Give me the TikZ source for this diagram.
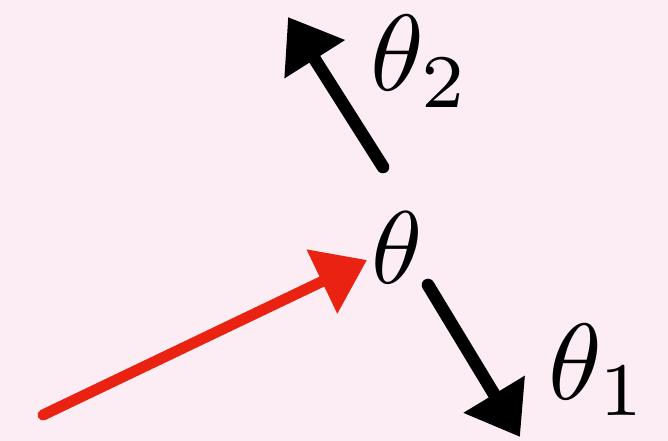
\documentclass[tikz,border=0pt]{standalone}
\usepackage{tikz}
\usetikzlibrary{arrows.meta,positioning}
\usepackage{xcolor}
\definecolor{BgPink}{RGB}{252,237,245}
\definecolor{GradRed}{RGB}{234,34,18}
\tikzset{
  symlabel/.style={inner sep=0pt,scale=8.8},
  sublabel/.style={symlabel,scale=1.05,anchor=base west},
  steparrow/.style={-{Triangle[length=1.5cm,width=2.05cm]},
    line width=0.38cm,line cap=round,line join=round,draw=black},
  gradarrow/.style={steparrow,line width=0.33cm,draw=GradRed},
}

\begin{document}
\begin{tikzpicture}
  \fill[BgPink] (0,0) rectangle (20.04,13.23);
  \useasboundingbox (0,0) rectangle (20.04,13.23);
  \node[symlabel] (th) at (11.91,5.79) {$\theta$};
  \node[sublabel] (th2) at (11.05,10.5) {$\theta_2$};
  \node[sublabel] (th1) at (16.4,1.25) {$\theta_1$};
  % arrow ends
  \coordinate (up0) at (11.49,8.22);
  \coordinate (up1) at (8.64,12.72);
  \coordinate (dn0) at (12.84,4.68);
  \coordinate (dn1) at (15.6,0.12);
  \coordinate (gr0) at (1.29,0.78);
  \coordinate (gr1) at (11.01,5.43);
  \draw[steparrow] (up0) -- (up1);
  \draw[steparrow] (dn0) -- (dn1);
  \draw[gradarrow] (gr0) -- (gr1);
\end{tikzpicture}
\end{document}
